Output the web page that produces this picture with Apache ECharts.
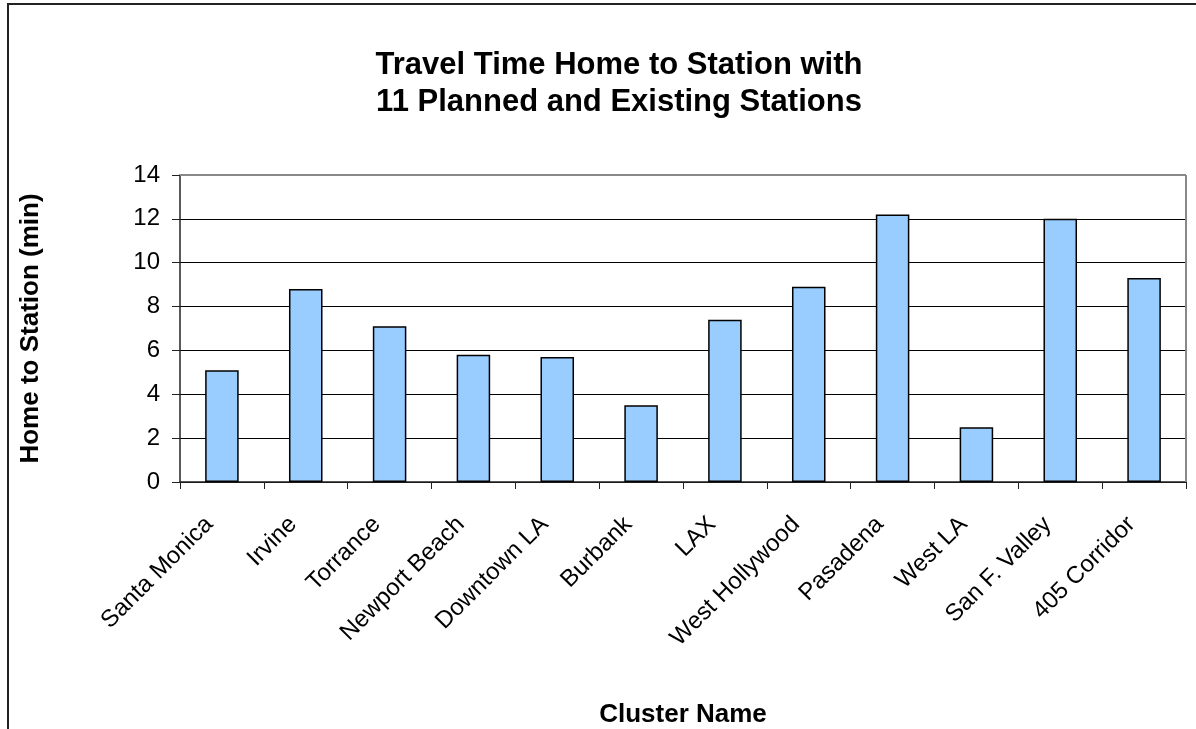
<!DOCTYPE html>
<html>
<head>
<meta charset="utf-8">
<script src="https://cdn.jsdelivr.net/npm/echarts@6/dist/echarts.min.js"></script>
<style>html,body{margin:0;padding:0;background:#fff;}#c{width:1196px;height:729px;}</style>
</head>
<body>
<div id="c"></div>
<script>
const categories = ["Santa Monica","Irvine","Torrance","Newport Beach","Downtown LA","Burbank","LAX","West Hollywood","Pasadena","West LA","San F. Valley","405 Corridor"];
const values = [5.1, 8.8, 7.1, 5.8, 5.7, 3.5, 7.4, 8.9, 12.2, 2.5, 12.0, 9.3];
const yTicks = [0, 2, 4, 6, 8, 10, 12, 14];
const titleText = "Travel Time Home to Station with\n11 Planned and Existing Stations";

const chart = echarts.init(document.getElementById('c'));
const FONT = '"Liberation Sans", Arial, sans-serif';
chart.setOption({
  animation: false,
  backgroundColor: '#fff',
  textStyle: { fontFamily: FONT },
  title: {
    text: titleText,
    left: 614, top: 42, textAlign: 'center',
    textStyle: { fontFamily: FONT, fontWeight: 'bold', fontSize: 31, color: '#000', lineHeight: 37 }
  },
  graphic: [{
    type: 'rect', shape: { x: 8, y: 4, width: 1400, height: 900 },
    style: { fill: 'none', stroke: '#222', lineWidth: 2 }, z: 100, silent: true
  }, {
    type: 'line', shape: { x1: 180, y1: 175, x2: 1186, y2: 175 },
    style: { stroke: '#888', lineWidth: 2 }, z: 1
  }, {
    type: 'line', shape: { x1: 1186, y1: 175, x2: 1186, y2: 482 },
    style: { stroke: '#888', lineWidth: 2 }, z: 1
  }],
  grid: { left: 180, right: 10, top: 175, bottom: 247, containLabel: false },
  xAxis: {
    type: 'category', data: categories,
    name: 'Cluster Name', nameLocation: 'middle', nameGap: 220,
    nameTextStyle: { fontFamily: FONT, fontWeight: 'bold', fontSize: 26, color: '#000' },
    axisLine: { lineStyle: { color: '#222', width: 1.5 } },
    axisTick: { show: true, length: 7, lineStyle: { color: '#222' } },
    axisLabel: { rotate: 45, fontSize: 24, color: '#000', margin: 26, padding: [0, 18, 0, 0], fontFamily: FONT, interval: 0 },
    splitLine: { show: false }
  },
  yAxis: {
    type: 'value', min: 0, max: 14, interval: 2,
    name: 'Home to Station (min)', nameLocation: 'middle', nameGap: 136, nameRotate: 90,
    nameTextStyle: { fontFamily: FONT, fontWeight: 'bold', fontSize: 26, color: '#000' },
    axisLine: { show: true, lineStyle: { color: '#222', width: 1.5 } },
    axisTick: { show: true, length: 8, lineStyle: { color: '#222' } },
    axisLabel: { fontSize: 24, color: '#000', margin: 20, fontFamily: FONT,
      formatter: function (v) { return yTicks.indexOf(v) >= 0 ? String(v) : ''; } },
    splitLine: { show: true, lineStyle: { color: '#000', width: 1 } }
  },
  series: [{
    type: 'bar', data: values, barWidth: '40%',
    itemStyle: { color: '#99CCFF', borderColor: '#000', borderWidth: 1.5 }
  }]
});
</script>
</body>
</html>
